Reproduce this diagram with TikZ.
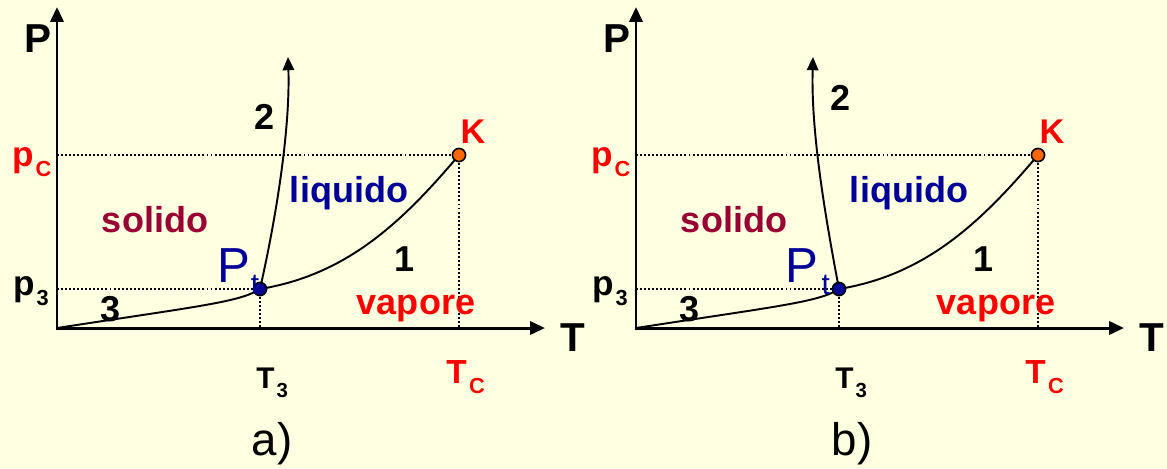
\documentclass[tikz,border=0pt]{standalone}
\usepackage{fontspec}
\setmainfont{Liberation Sans}
\usetikzlibrary{arrows.meta}
\definecolor{bg}{HTML}{FFFFE1}
\definecolor{dblue}{HTML}{000099}
\definecolor{maroonc}{HTML}{990033}
\definecolor{korange}{HTML}{FF6600}
\newcommand\fsz[1]{\fontsize{#1}{#1}\selectfont}
\tikzset{
  axis/.style={line width=1.7pt,-{Triangle[length=8.5pt,width=7.5pt]}},
  curve/.style={line width=1.1pt},
  curvearrow/.style={line width=1.1pt,-{Triangle[length=7.5pt,width=6.5pt]}},
  dotline/.style={line width=0.7pt,dash pattern=on 1.1pt off 1.2pt},
  kdot/.style={circle,draw=black,line width=0.9pt,fill=korange,minimum size=7.5pt,inner sep=0pt},
  tdot/.style={circle,draw=black,line width=0.9pt,fill=dblue,minimum size=7.5pt,inner sep=0pt},
  biglab/.style={font=\fsz{23pt}\bfseries,inner sep=0pt},
  reglab/.style={font=\fsz{20.5pt}\bfseries,inner sep=0pt},
  klab/.style={font=\fsz{19.5pt}\bfseries,inner sep=0pt,text=red},
  plab/.style={font=\fsz{20pt}\bfseries,inner sep=0pt,anchor=base west},
  sublab/.style={font=\fsz{20pt}\bfseries,inner sep=0pt,anchor=base west},
  psub/.style={sublab,yshift=-6pt,xshift=0.6pt},
  tlab/.style={sublab},
  tsub/.style={sublab,yshift=-5.5pt,xshift=0.8pt},
  tclab/.style={sublab},
  tcsub/.style={sublab,yshift=-6pt,xshift=1pt},
  ptlab/.style={font=\fsz{28pt},text=dblue,inner sep=0pt,anchor=base west},
  ptsub/.style={font=\fsz{20pt},text=dblue,inner sep=0pt,anchor=base west,yshift=-7pt},
  caplab/.style={font=\fsz{26pt},inner sep=0pt},
}
\begin{document}
\begin{tikzpicture}[x=0.02cm,y=-0.02cm]
\fill[bg] (0,0) rectangle (1167,468);
\useasboundingbox (0,0) rectangle (1167,468);

% ================= panel a =================
\coordinate (aO) at (57,328);
\coordinate (aYtip) at (57,7);
\coordinate (aXtip) at (545,328);
\coordinate (aKc) at (459,155);
\coordinate (aPtc) at (260,289);
\coordinate (apc) at (57,155);
\coordinate (ap3) at (57,289);
\coordinate (aTc) at (459,328);
\coordinate (aT3) at (260,328);
\coordinate (a2tip) at (288,57);

\draw[dotline] (apc) -- (aKc);
\draw[dotline] (aKc) -- (aTc);
\draw[dotline] (ap3) -- (aPtc);
\draw[dotline] (aPtc) -- (aT3);
\draw[axis] (aO) -- (aYtip);
\draw[axis] ([xshift=-0.8pt]aO) -- (aXtip);
\draw[curve] (aO) .. controls (200,306) and (240,302) .. (aPtc);
\draw[curve] (aPtc) .. controls (345,275) and (400,225) .. (aKc);
\draw[curvearrow] (aPtc) .. controls (280,200) and (290,120) .. (a2tip);
\node[kdot] (aK) at (aKc) {};
\node[tdot] (aPt) at (aPtc) {};

\node[biglab] (aPlab) at (38,39) {P};
\node[biglab] (aTlab) at (573,338) {T};
\node[plab,text=red] (apclab) at (12,166) {p};
\node[psub,text=red] (apcsub) at (apclab.base east) {\scalebox{0.62}{C}};
\node[plab] (ap3lab) at (13,295) {p};
\node[psub] (ap3sub) at (ap3lab.base east) {\scalebox{0.62}{3}};
\node[tlab] (aT3lab) at (256,388) {\scalebox{0.85}{T}};
\node[tsub] (aT3sub) at (aT3lab.base east) {\scalebox{0.58}{3}};
\node[tclab,text=red] (aTclab) at (446,383) {\scalebox{0.95}{T}};
\node[tcsub,text=red] (aTcsub) at (aTclab.base east) {\scalebox{0.62}{C}};
\node[klab] (aKlab) at (473,132) {K};
\node[reglab] (a2) at (265,117) {2};
\node[reglab,text=dblue] (aliq) at (349,193) {liquido};
\node[reglab,text=maroonc] (asol) at (155,220) {solido};
\node[reglab] (a1) at (405,259) {1};
\node[reglab,text=red] (avap) at (416,309) {vapore};
\node[reglab] (a3) at (111,309) {3};
\node[ptlab] (aPtlab) at (217,282) {P};
\node[ptsub] (aPtsub) at (aPtlab.base east) {\scalebox{0.85}{t}};
\node[caplab] (acap) at (272,444) {a)};

% ================= panel b =================
\coordinate (bO) at (636,328);
\coordinate (bYtip) at (636,7);
\coordinate (bXtip) at (1124,328);
\coordinate (bKc) at (1038,155);
\coordinate (bPtc) at (839,289);
\coordinate (bpc) at (636,155);
\coordinate (bp3) at (636,289);
\coordinate (bTc) at (1038,328);
\coordinate (bT3) at (839,328);
\coordinate (b2tip) at (813,57);

\draw[dotline] (bpc) -- (bKc);
\draw[dotline] (bKc) -- (bTc);
\draw[dotline] (bp3) -- (bPtc);
\draw[dotline] (bPtc) -- (bT3);
\draw[axis] (bO) -- (bYtip);
\draw[axis] ([xshift=-0.8pt]bO) -- (bXtip);
\draw[curve] (bO) .. controls (779,306) and (819,302) .. (bPtc);
\draw[curve] (bPtc) .. controls (924,275) and (979,225) .. (bKc);
\draw[curvearrow] (bPtc) .. controls (824,210) and (811,130) .. (b2tip);
\node[kdot] (bK) at (bKc) {};
\node[tdot] (bPt) at (bPtc) {};

\node[biglab] (bPlab) at (617,39) {P};
\node[biglab] (bTlab) at (1152,338) {T};
\node[plab,text=red] (bpclab) at (591,166) {p};
\node[psub,text=red] (bpcsub) at (bpclab.base east) {\scalebox{0.62}{C}};
\node[plab] (bp3lab) at (592,295) {p};
\node[psub] (bp3sub) at (bp3lab.base east) {\scalebox{0.62}{3}};
\node[tlab] (bT3lab) at (835,388) {\scalebox{0.85}{T}};
\node[tsub] (bT3sub) at (bT3lab.base east) {\scalebox{0.58}{3}};
\node[tclab,text=red] (bTclab) at (1025,383) {\scalebox{0.95}{T}};
\node[tcsub,text=red] (bTcsub) at (bTclab.base east) {\scalebox{0.62}{C}};
\node[klab] (bKlab) at (1052,132) {K};
\node[reglab] (b2) at (841,98) {2};
\node[reglab,text=dblue] (bliq) at (909,193) {liquido};
\node[reglab,text=maroonc] (bsol) at (734,220) {solido};
\node[reglab] (b1) at (984,259) {1};
\node[reglab,text=red] (bvap) at (996,309) {vapore};
\node[reglab] (b3) at (690,309) {3};
\node[ptlab] (bPtlab) at (785,282) {P};
\node[ptsub,xshift=1.5pt] (bPtsub) at (bPtlab.base east) {\scalebox{0.85}{t}};
\node[caplab] (bcap) at (852,444) {b)};
\end{tikzpicture}
\end{document}
